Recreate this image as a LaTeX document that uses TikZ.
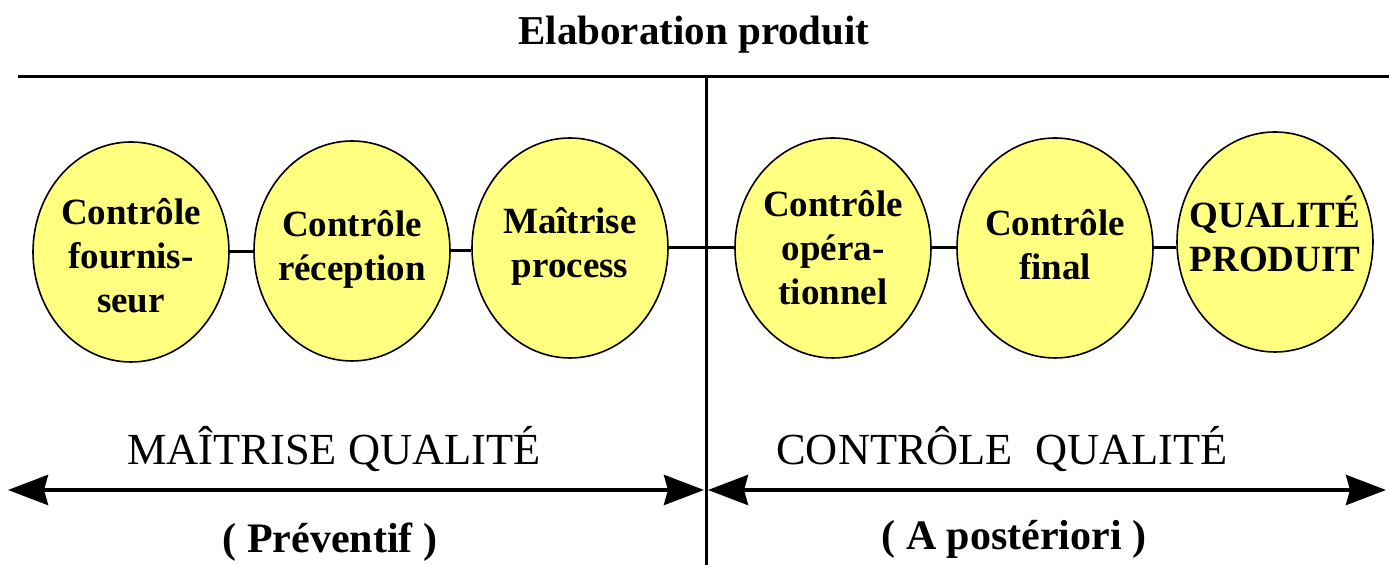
\documentclass[tikz,border=0pt]{standalone}
\usepackage{fontspec}
\setmainfont{Liberation Serif}
\usetikzlibrary{shapes.geometric,arrows.meta}
\definecolor{jaune}{RGB}{255,255,128}
\begin{document}
\begin{tikzpicture}[x=0.5pt,y=-0.5pt,
  bulle/.style={ellipse,draw=black,line width=0.8pt,fill=jaune,
    minimum width=98pt,minimum height=110pt,inner sep=0pt},
  etiq/.style={align=center,font=\fontsize{18.5}{22}\selectfont\bfseries,inner sep=0pt},
  trait/.style={line width=1.5pt},
  fleche/.style={line width=2pt,
    {Stealth[length=20pt,width=15pt,inset=2pt]}-{Stealth[length=20pt,width=15pt,inset=2pt]}},
  titre/.style={font=\fontsize{20.5}{24}\selectfont\bfseries,inner sep=0pt,anchor=base},
  phase/.style={font=\fontsize{22.2}{26}\selectfont,inner sep=0pt,anchor=base},
  nature/.style={font=\fontsize{21}{25}\selectfont\bfseries,inner sep=0pt,anchor=base}]
\useasboundingbox (0,0) rectangle (1389,565);

% title and frame lines
\node[titre] (titre) at (694,45) {Elaboration produit};
\coordinate (hg) at (18,77);
\coordinate (hd) at (1389,77);
\coordinate (vh) at (706,77);
\coordinate (vb) at (706,565);
\draw[trait] (hg) -- (hd);
\draw[trait] (vh) -- (vb);

% stages
\node[bulle] (e1) at (131,252) {};
\node[bulle] (e2) at (352,251) {};
\node[bulle] (e3) at (570,248) {};
\node[bulle] (e4) at (833,248) {};
\node[bulle] (e5) at (1055,248) {};
\node[bulle] (e6) at (1275,242) {};

% links between stages
\draw[trait] (e1.east) -- (e1.east -| e2.west);
\draw[trait] (e2.east) -- (e2.east -| e3.west);
\draw[trait] (e3.east) -- (e3.east -| e4.west);
\draw[trait] (e4.east) -- (e4.east -| e5.west);
\draw[trait] (e5.east) -- (e5.east -| e6.west);

% stage texts
\node[etiq] (t1) at (131,255.5) {Contrôle\\fournis-\\seur};
\node[etiq] (t2) at (352,249) {Contrôle\\réception};
\node[etiq] (t3) at (570,246.5) {Maîtrise\\process};
\node[etiq] (t4) at (833,247.5) {Contrôle\\opéra-\\tionnel};
\node[etiq] (t5) at (1055,245) {Contrôle\\final};
\node[etiq] (t6) at (1275,234) {QUALITÉ\\PRODUIT};

% phases
\node[phase] (p1) at (334,465) {MAÎTRISE QUALITÉ};
\node[phase] (p2) at (1002,465) {CONTRÔLE~ QUALITÉ};
\coordinate (ag) at (8,490);
\coordinate (am) at (704,490);
\coordinate (an) at (708,490);
\coordinate (ad) at (1386,490);
\draw[fleche] (ag) -- (am);
\draw[fleche] (an) -- (ad);
\node[nature] (n1) at (330,553) {( Préventif )};
\node[nature] (n2) at (1014,550) {( A postériori )};
\end{tikzpicture}
\end{document}
